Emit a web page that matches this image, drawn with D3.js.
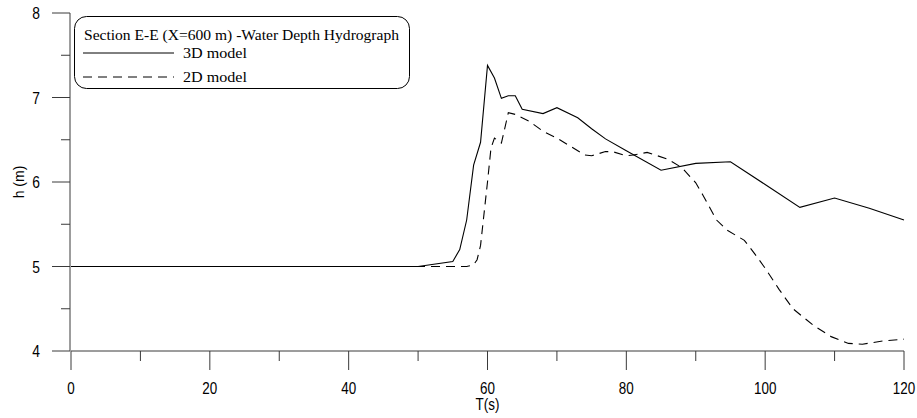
<!DOCTYPE html>
<html>
<head>
<meta charset="utf-8">
<script src="https://cdn.jsdelivr.net/npm/d3@7/dist/d3.min.js"></script>
<style>
body { margin: 0; background: #fff; }
svg { display: block; }
</style>
</head>
<body>
<svg width="917" height="418"></svg>
<script>
// values
var t3d = [0, 50, 55, 56, 57, 58, 59, 60, 61, 62, 63, 64, 65, 68, 70, 73, 75, 77, 80, 85, 90, 95, 100, 105, 110, 115, 120]
var h3d = [5, 5, 5.06, 5.2, 5.55, 6.2, 6.47, 7.38, 7.23, 6.99, 7.02, 7.02, 6.86, 6.81, 6.88, 6.76, 6.63, 6.51, 6.37, 6.14, 6.22, 6.24, 5.97, 5.70, 5.81, 5.69, 5.55]

var t2d = [0, 57, 58, 58.5, 59, 60, 60.5, 61, 62, 63, 64, 66, 68, 70, 72, 74, 75, 77, 78, 80, 81, 83, 86, 88, 90, 91, 93, 94.5, 97, 98.5, 100, 102, 104, 107, 109.5, 112, 114, 117, 120]
var h2d = [5, 5, 5.02, 5.08, 5.25, 6.0, 6.4, 6.52, 6.46, 6.82, 6.8, 6.72, 6.6, 6.52, 6.42, 6.32, 6.31, 6.36, 6.36, 6.31, 6.32, 6.35, 6.27, 6.17, 5.99, 5.85, 5.55, 5.43, 5.31, 5.15, 4.98, 4.73, 4.5, 4.3, 4.17, 4.09, 4.08, 4.12, 4.14]

var xTicks = [0, 20, 40, 60, 80, 100, 120]
var yTicks = [4, 5, 6, 7, 8]
var legendTitle = 'Section E-E (X=600 m) -Water Depth Hydrograph'
var seriesNames = ['3D model', '2D model']

var svg = d3.select('svg')
var x = d3.scaleLinear().domain([0, 120]).range([71, 904])
var y = d3.scaleLinear().domain([4, 8]).range([351, 13])
var axisColor = '#3a3a3a'
var sans = 'Liberation Sans, Arial, sans-serif'
var serif = 'Liberation Serif, Times New Roman, serif'

// y axis
var yAxis = svg.append('g')
yAxis.append('line')
    .attr('x1', 70).attr('x2', 70)
    .attr('y1', y(8)).attr('y2', y(4))
    .attr('stroke', axisColor)
yAxis.selectAll('.ymaj').data(yTicks).enter().append('line')
    .attr('x1', 52).attr('x2', 70)
    .attr('y1', function(d){ return y(d) }).attr('y2', function(d){ return y(d) })
    .attr('stroke', axisColor)
yAxis.selectAll('.ymin').data(d3.range(4.5, 8, 1)).enter().append('line')
    .attr('x1', 61).attr('x2', 70)
    .attr('y1', function(d){ return y(d) }).attr('y2', function(d){ return y(d) })
    .attr('stroke', axisColor)
yAxis.selectAll('text').data(yTicks).enter().append('text')
    .text(function(d){ return d })
    .attr('transform', function(d){ return 'translate(40,' + (y(d) + 6) + ') scale(0.84,1)' })
    .attr('text-anchor', 'end')
    .attr('font-family', sans)
    .attr('font-size', 16.5)

svg.append('text')
    .text('h (m)')
    .attr('transform', 'translate(24,' + y(6) + ') rotate(-90)')
    .attr('text-anchor', 'middle')
    .attr('font-family', sans)
    .attr('font-size', 14)

// x axis
var xAxis = svg.append('g')
xAxis.append('line')
    .attr('x1', x(0)).attr('x2', x(120))
    .attr('y1', 351).attr('y2', 351)
    .attr('stroke', axisColor)
xAxis.selectAll('.xmaj').data(xTicks).enter().append('line')
    .attr('x1', function(d){ return x(d) }).attr('x2', function(d){ return x(d) })
    .attr('y1', 351).attr('y2', 370)
    .attr('stroke', axisColor)
xAxis.selectAll('.xmin').data(d3.range(10, 120, 20)).enter().append('line')
    .attr('x1', function(d){ return x(d) }).attr('x2', function(d){ return x(d) })
    .attr('y1', 351).attr('y2', 361)
    .attr('stroke', axisColor)
xAxis.selectAll('text').data(xTicks).enter().append('text')
    .text(function(d){ return d })
    .attr('transform', function(d){ return 'translate(' + x(d) + ',393.5) scale(0.84,1)' })
    .attr('text-anchor', 'middle')
    .attr('font-family', sans)
    .attr('font-size', 16)

svg.append('text')
    .text('T(s)')
    .attr('transform', 'translate(' + x(60) + ',410) scale(0.84,1)')
    .attr('text-anchor', 'middle')
    .attr('font-family', sans)
    .attr('font-size', 16)

// lines
var line = d3.line()
    .x(function(d){ return x(d[0]) })
    .y(function(d){ return y(d[1]) })

svg.append('path')
    .attr('d', line(d3.zip(t3d, h3d)))
    .attr('fill', 'none')
    .attr('stroke', '#000')
    .attr('stroke-width', 1.1)

svg.append('path')
    .attr('d', line(d3.zip(t2d, h2d)))
    .attr('fill', 'none')
    .attr('stroke', '#000')
    .attr('stroke-width', 1.1)
    .attr('stroke-dasharray', '9,6')

// legend
var lg = svg.append('g')
lg.append('rect')
    .attr('x', 74.5).attr('y', 16.5)
    .attr('width', 335).attr('height', 72)
    .attr('rx', 12).attr('ry', 12)
    .attr('fill', '#fff')
    .attr('stroke', '#000')
lg.append('text')
    .text(legendTitle)
    .attr('x', 84).attr('y', 40)
    .attr('font-family', serif)
    .attr('font-size', 14.5)
    .attr('textLength', 315)
    .attr('lengthAdjust', 'spacingAndGlyphs')
lg.selectAll('.li').data(seriesNames).enter().append('line')
    .attr('x1', 83).attr('x2', 174)
    .attr('y1', function(d, i){ return 53 + i * 24 }).attr('y2', function(d, i){ return 53 + i * 24 })
    .attr('stroke', '#000')
    .attr('stroke-dasharray', function(d, i){ return i ? '9,6' : null })
lg.selectAll('.lt').data(seriesNames).enter().append('text')
    .text(function(d){ return d })
    .attr('x', 183)
    .attr('y', function(d, i){ return 58 + i * 24 })
    .attr('font-family', serif)
    .attr('font-size', 14.5)
    .attr('textLength', 64)
    .attr('lengthAdjust', 'spacingAndGlyphs')
</script>
</body>
</html>
